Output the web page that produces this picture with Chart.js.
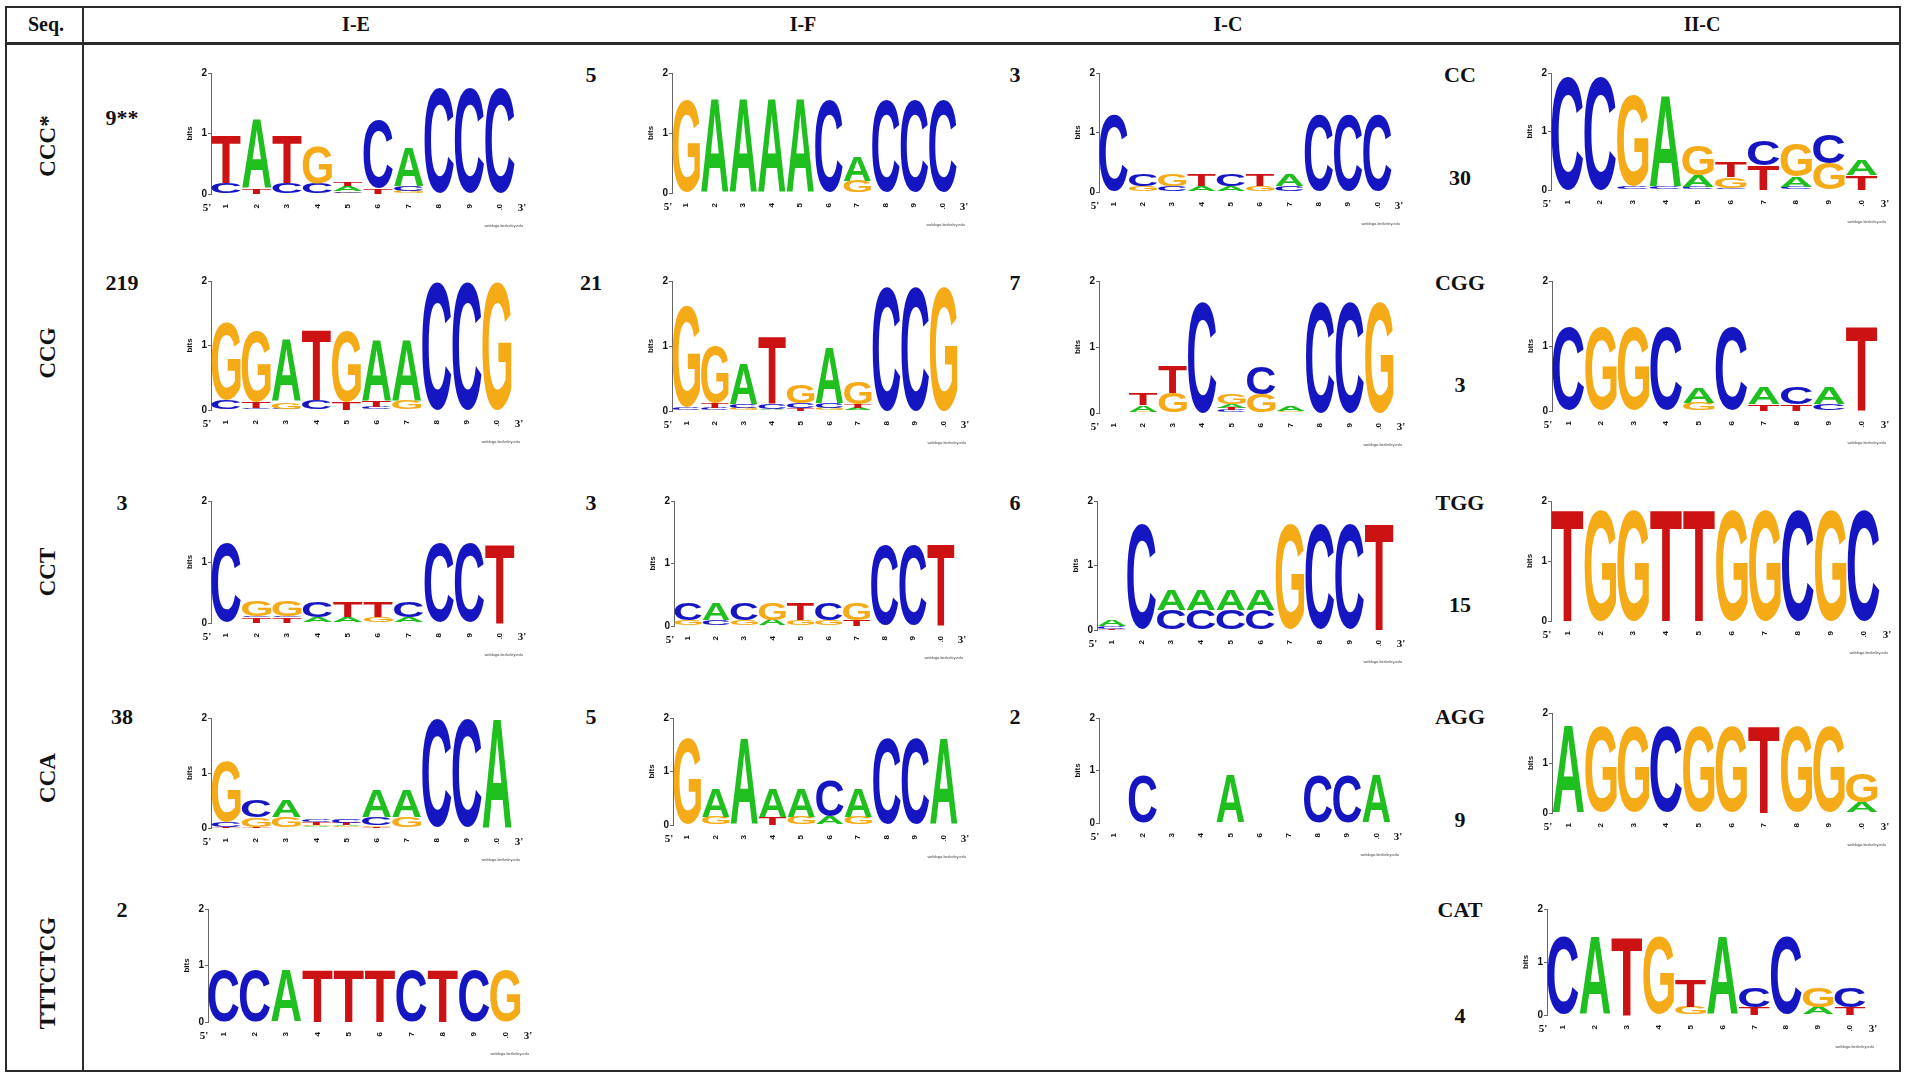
<!DOCTYPE html>
<html><head><meta charset="utf-8">
<script src="https://cdn.jsdelivr.net/npm/chart.js@4.4.1/dist/chart.umd.min.js"></script>
<style>
body{margin:0;background:#fff;}
#page{position:relative;width:1907px;height:1080px;overflow:hidden;font-family:"Liberation Serif","Times New Roman",serif;font-weight:bold;color:#111;}
.t{position:absolute;transform:translate(-50%,-50%);white-space:nowrap;font-size:22px;line-height:1;}
.h{font-size:20px;}
.rl{position:absolute;transform:translate(-50%,-50%) rotate(-90deg);white-space:nowrap;font-size:23px;line-height:1;}
.line{position:absolute;background:#2b2b2b;}
canvas{position:absolute;}
</style></head><body><div id="page"></div>
<script>
// ---------------- DATA ----------------
const positions = ["1","2","3","4","5","6","7","8","9","10"];
const columnHeaders = ["Seq.","I-E","I-F","I-C","II-C"];
const rowLabels = ["CCC*","CCG","CCT","CCA","TTTCTCG"];
const countsIE = ["9**","219","3","38","2"];
const countsIF = ["5","21","3","5"];
const countsIC = ["3","7","6","2"];
const repeatsIIC = ["CC","CGG","TGG","AGG","CAT"];
const countsIIC = ["30","3","15","9","4"];

// each position: letter, bits, letter, bits ... from bottom to top
const IE_CCC = [["C",.18,"T",.79],["T",.10,"A",1.13],["C",.18,"T",.79],["C",.18,"G",.61],["G",.02,"C",.03,"A",.09,"T",.07],["T",.10,"C",1.14],["G",.05,"C",.08,"A",.64],["C",1.76],["C",1.76],["C",1.76]];
const IF_CCC = [["G",1.55],["A",1.55],["A",1.55],["A",1.55],["A",1.55],["C",1.55],["G",.2,"A",.4],["C",1.55],["C",1.55],["C",1.55]];
const IC_CCC = [["C",1.28],["G",.1,"C",.2],["C",.1,"G",.2],["A",.1,"T",.2],["A",.1,"C",.2],["G",.1,"T",.2],["C",.1,"A",.2],["C",1.28],["C",1.28],["C",1.28]];
const IIC_CC = [["C",1.94],["C",1.94],["C",.06,"G",1.55],["C",.06,"A",1.55],["C",.05,"A",.2,"G",.52],["C",.04,"G",.18,"T",.26],["T",.42,"C",.42],["C",.05,"A",.18,"G",.55],["G",.45,"C",.5],["T",.26,"A",.26]];

const IE_CCG = [["C",.15,"G",1.2],["C",.03,"T",.1,"G",1.1],["C",.02,"G",.11,"A",.96],["C",.15,"T",1.08],["T",.13,"G",1.1],["C",.05,"T",.1,"A",.94],["G",.15,"A",.94],["C",1.98],["C",1.98],["G",1.98]];
const IF_CCG = [["C",.05,"G",1.55],["C",.04,"T",.08,"G",.88],["G",.05,"C",.05,"A",.62],["A",.03,"C",.08,"T",1.03],["T",.05,"C",.07,"G",.28],["G",.05,"C",.07,"A",.86],["A",.04,"T",.06,"G",.35],["C",1.92],["C",1.92],["G",1.92]];
const IC_CCG = [[],["G",.02,"A",.1,"T",.18],["G",.3,"T",.4],["C",1.69],["C",.04,"T",.04,"A",.05,"G",.15],["G",.28,"C",.42],["G",.03,"A",.07],["C",1.69],["C",1.69],["G",1.69]];
const IIC_CGG = [["C",1.29],["G",1.29],["G",1.29],["C",1.29],["G",.12,"A",.24],["C",1.29],["T",.1,"A",.25],["T",.1,"C",.26],["C",.1,"A",.26],["T",1.29]];

const IE_CCT = [["C",1.3],["T",.09,"C",.02,"G",.25],["T",.09,"C",.02,"G",.25],["A",.1,"C",.26],["A",.1,"T",.26],["G",.1,"T",.26],["A",.1,"C",.26],["C",1.3],["C",1.3],["T",1.3]];
const IF_CCT = [["G",.1,"C",.27],["C",.1,"A",.27],["G",.1,"C",.27],["A",.1,"G",.27],["G",.1,"T",.27],["G",.1,"C",.27],["T",.1,"G",.27],["C",1.3],["C",1.3],["T",1.3]];
const IC_CCT = [["T",.02,"C",.04,"A",.09],["C",1.64],["C",.31,"A",.31],["C",.31,"A",.31],["C",.31,"A",.31],["C",.31,"A",.31],["G",1.64],["C",1.64],["C",1.64],["T",1.64]];
const IIC_TGG = [["T",1.86],["G",1.86],["G",1.86],["T",1.86],["T",1.86],["G",1.86],["G",1.86],["C",1.86],["G",1.86],["C",1.86]];

const IE_CCA = [["T",.02,"C",.1,"G",1.1],["T",.02,"G",.17,"C",.32],["G",.2,"A",.3],["A",.03,"G",.03,"T",.04,"C",.05],["G",.03,"A",.02,"T",.04,"C",.06],["T",.02,"G",.03,"C",.15,"A",.48],["G",.2,"A",.48],["C",1.98],["C",1.98],["A",1.98]];
const IF_CCA = [["G",1.6],["G",.15,"A",.53],["A",1.6],["T",.15,"A",.53],["G",.15,"A",.53],["A",.15,"C",.67],["G",.15,"A",.53],["C",1.6],["C",1.6],["A",1.6]];
const IC_CCA = [[],["C",.92],[],[],["A",.92],[],[],["C",.92],["C",.92],["A",.92]];
const IIC_AGG = [["A",1.73],["G",1.73],["G",1.73],["C",1.73],["G",1.73],["G",1.73],["T",1.73],["G",1.73],["G",1.73],["A",.22,"G",.58]];

const IE_TTTCTCG = [["C",.91],["C",.91],["A",.91],["T",.91],["T",.91],["T",.91],["C",.91],["T",.91],["C",.91],["G",.91]];
const IIC_CAT = [["C",1.47],["A",1.47],["T",1.47],["G",1.47],["G",.15,"T",.5],["A",1.47],["T",.15,"C",.38],["C",1.47],["A",.15,"G",.38],["T",.15,"C",.38]];

// ---------------- LAYOUT / STYLE ----------------
const letterColors = {A:"#1fbf1f", C:"#1515c2", G:"#f5aa18", T:"#cc1212"};
const logoPlacement = [
  [IE_CCC,[211,72,515,194]],[IF_CCC,[672,72,957,193]],[IC_CCC,[1099,72,1392,192]],[IIC_CC,[1551,72,1878,190]],
  [IE_CCG,[211,280,512,410]],[IF_CCG,[672,280,958,411]],[IC_CCG,[1099,280,1394,413]],[IIC_CGG,[1552,280,1878,411]],
  [IE_CCT,[211,500,515,623]],[IF_CCT,[674,500,955,626]],[IC_CCT,[1097,500,1394,630]],[IIC_TGG,[1551,500,1880,621]],
  [IE_CCA,[211,717,512,828]],[IF_CCA,[673,717,958,825]],[IC_CCA,[1099,717,1391,823]],[IIC_AGG,[1552,712,1878,813]],
  [IE_TTTCTCG,[208,908,521,1022]],[IIC_CAT,[1547,908,1866,1015]]
];

const page = document.getElementById('page');
function line(x,y,w,h){const d=document.createElement('div');d.className='line';Object.assign(d.style,{left:x+'px',top:y+'px',width:w+'px',height:h+'px'});page.appendChild(d);}
function text(str,x,y,cls){const d=document.createElement('div');d.className=cls||'t';d.textContent=str;d.style.left=x+'px';d.style.top=y+'px';page.appendChild(d);}

// table frame
line(5,6,1896,2); line(5,1070,1896,2); line(5,6,2,1066); line(1899,6,2,1066);
line(82,6,2,1066); line(5,42,1896,3);
// headers
const headerX=[46,356,803,1228,1702];
columnHeaders.forEach((h,i)=>text(h,headerX[i],24,'t h'));
const rowY=[146,353,572,778,973];
rowLabels.forEach((r,i)=>text(r,47,rowY[i],'rl'));
const numY=[75,283,503,717,910];
countsIE.forEach((c,i)=>text(c,122,i===0?118:numY[i]));
countsIF.forEach((c,i)=>text(c,591,numY[i]));
countsIC.forEach((c,i)=>text(c,1015,numY[i]));
repeatsIIC.forEach((c,i)=>text(c,1460,numY[i]));
const num2Y=[178,385,605,820,1016];
countsIIC.forEach((c,i)=>text(c,1460,num2Y[i]));

// ---------------- LOGO CHARTS ----------------
Chart.defaults.font.family='"Liberation Sans", Arial, sans-serif';
function drawGlyph(ctx,ch,left,top,w,h){
  ctx.save();
  ctx.font='bold 200px "Liberation Sans", Arial, sans-serif';
  ctx.textAlign='left';ctx.textBaseline='alphabetic';
  const m=ctx.measureText(ch);
  const gl=m.actualBoundingBoxLeft, gr=m.actualBoundingBoxRight, ga=m.actualBoundingBoxAscent, gd=m.actualBoundingBoxDescent;
  ctx.translate(left,top);
  ctx.scale(w/(gl+gr),h/(ga+gd));
  ctx.fillStyle=letterColors[ch];
  ctx.fillText(ch,gl,ga);
  ctx.restore();
}
const logoPlugin={id:'logo',
  afterDatasetsDraw(chart){
    const ctx=chart.ctx;
    chart.data.datasets.forEach((ds,i)=>{
      chart.getDatasetMeta(i).data.forEach((el,j)=>{
        const ch=ds.letters[j]; if(!ch) return;
        const p=el.getProps(['x','y','base','width'],true);
        const top=Math.min(p.y,p.base), h=Math.abs(p.base-p.y);
        if(h<0.4) return;
        drawGlyph(ctx,ch,p.x-p.width/2,top,p.width,h);
      });
    });
  },
  afterDraw(chart){
    const ctx=chart.ctx, a=chart.chartArea;
    ctx.save();
    ctx.fillStyle='#111';
    ctx.font='bold 11px "Liberation Serif", serif';
    ctx.textBaseline='middle';
    ctx.textAlign='center';
    ctx.fillText("5'",a.left-4,a.bottom+14);
    ctx.fillText("3'",a.right+7,a.bottom+14);
    ctx.font='4px "Liberation Sans", sans-serif';
    ctx.fillStyle='#444';
    ctx.textAlign='right';
    ctx.fillText('weblogo.berkeley.edu',a.right+8,a.bottom+32);
    ctx.restore();
  }
};
const PADL=26,PADT=6,PADR=34,XH=16,PADB=24;
function makeLogo(logo,box){
  const [L,T,R,B]=box;
  const W=R-L+PADL+PADR, H=B-T+PADT+XH+PADB;
  const cv=document.createElement('canvas');
  cv.width=W;cv.height=H;
  Object.assign(cv.style,{left:(L-PADL)+'px',top:(T-PADT)+'px',width:W+'px',height:H+'px'});
  page.appendChild(cv);
  const depth=Math.max(...logo.map(p=>p.length/2));
  const datasets=[];
  for(let k=0;k<depth;k++){
    datasets.push({
      data:logo.map(p=>p.length>2*k?p[2*k+1]:0),
      letters:logo.map(p=>p.length>2*k?p[2*k]:''),
      backgroundColor:'rgba(0,0,0,0)',borderWidth:0,categoryPercentage:1,barPercentage:0.96
    });
  }
  new Chart(cv,{type:'bar',data:{labels:positions,datasets},
    options:{responsive:false,animation:false,devicePixelRatio:1,events:[],
      plugins:{legend:{display:false},tooltip:{enabled:false}},
      layout:{padding:{left:0,top:PADT,right:PADR,bottom:PADB}},
      scales:{
        x:{stacked:true,grid:{display:false},border:{display:false},
           ticks:{minRotation:90,maxRotation:90,autoSkip:false,padding:2,color:'#111',font:{size:8,weight:'bold'}},
           afterFit:s=>{s.height=XH;}},
        y:{stacked:true,min:0,max:2,
           ticks:{stepSize:1,padding:1,color:'#111',font:{size:10,weight:'bold'}},
           grid:{drawOnChartArea:false,drawTicks:true,tickLength:3,color:'#666'},
           border:{display:true,color:'#666',width:1},
           title:{display:true,text:'bits',color:'#111',padding:0,font:{size:8,weight:'bold'}},
           afterFit:s=>{s.width=PADL;}}
      }},
    plugins:[logoPlugin]});
}
logoPlacement.forEach(([logo,box])=>makeLogo(logo,box));
</script></body></html>
